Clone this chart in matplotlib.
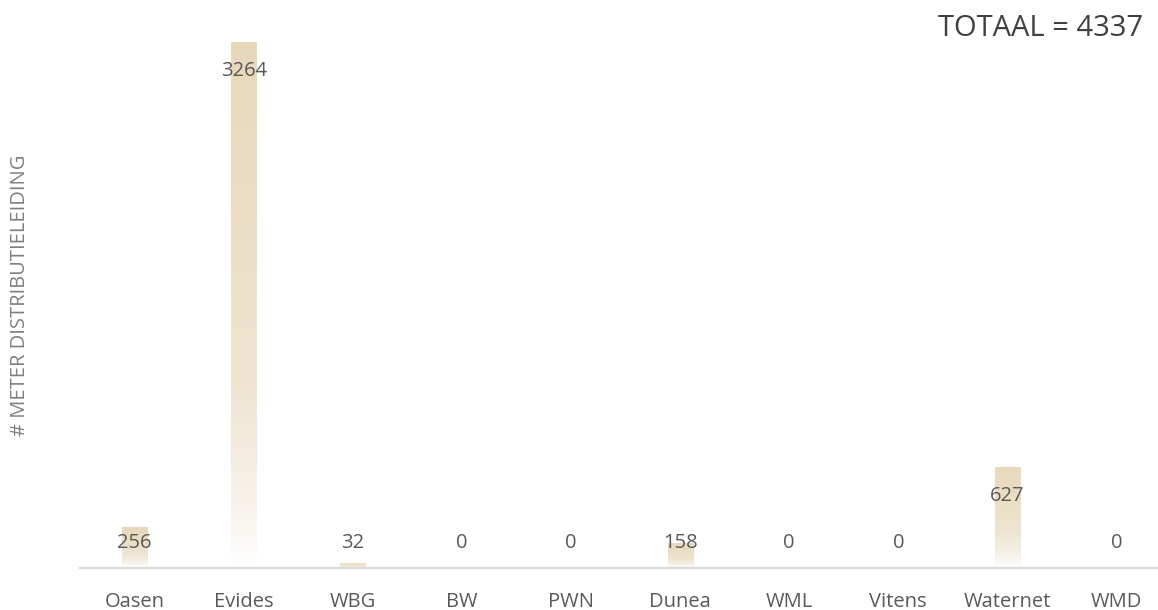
import numpy as np
import matplotlib.pyplot as plt
from matplotlib.colors import LinearSegmentedColormap

# Data
bedrijven = ["Oasen", "Evides", "WBG", "BW", "PWN", "Dunea", "WML", "Vitens", "Waternet", "WMD"]
meters = [256, 3264, 32, 0, 0, 158, 0, 0, 627, 0]
totaal = 4337

plt.rcParams['font.family'] = ['Open Sans', 'DejaVu Sans']

fig = plt.figure(figsize=(11.58, 6.10), dpi=100)
ax = fig.add_axes([80 / 1158, 42 / 610, 1091 / 1158, 568 / 610])

x = np.arange(len(bedrijven))
bars = ax.bar(x, meters, width=0.23, color='none', edgecolor='none')

# gradient fill per bar: tan at top, white at bottom
cmap = LinearSegmentedColormap.from_list(
    "tan", [(0.0, "#ffffff"), (0.12, "#f7f2ea"), (0.35, "#eee4d0"), (1.0, "#e8d8bb")])
grad = np.linspace(0, 1, 256).reshape(-1, 1)
for b in bars:
    h = b.get_height()
    if h <= 0:
        continue
    x0 = b.get_x()
    im = ax.imshow(grad, cmap=cmap, origin='lower', aspect='auto',
                   extent=[x0, x0 + b.get_width(), 0, h], zorder=2)
    im.set_clip_path(b)

ax.set_xlim(-0.5, len(bedrijven) - 0.5)
ax.set_ylim(0, 3524)

# value labels (inside end, but not lower than a floor)
for xi, v in zip(x, meters):
    y = max(v - 180, 155)
    ax.text(xi, y, str(v), ha='center', va='center', fontsize=14.5,
            color='#595959', zorder=3)

for side in ['top', 'right', 'left']:
    ax.spines[side].set_visible(False)
ax.spines['bottom'].set_color('#d9d9d9')
ax.spines['bottom'].set_linewidth(1.6)
ax.set_yticks([])
ax.set_xticks(x)
ax.set_xticklabels(bedrijven, fontsize=14.5, color='#595959')
ax.tick_params(axis='x', length=0, pad=17)

fig.text(20 / 1158, 1 - 295 / 610, "# METER DISTRIBUTIELEIDING", rotation=90,
         ha='center', va='center', fontsize=14.5, color='#7f7f7f')
fig.text(1143 / 1158, 1 - 28 / 610, f"TOTAAL = {totaal}", ha='right', va='center',
         fontsize=21, color='#404040')

fig.savefig("out.png", dpi=100)
